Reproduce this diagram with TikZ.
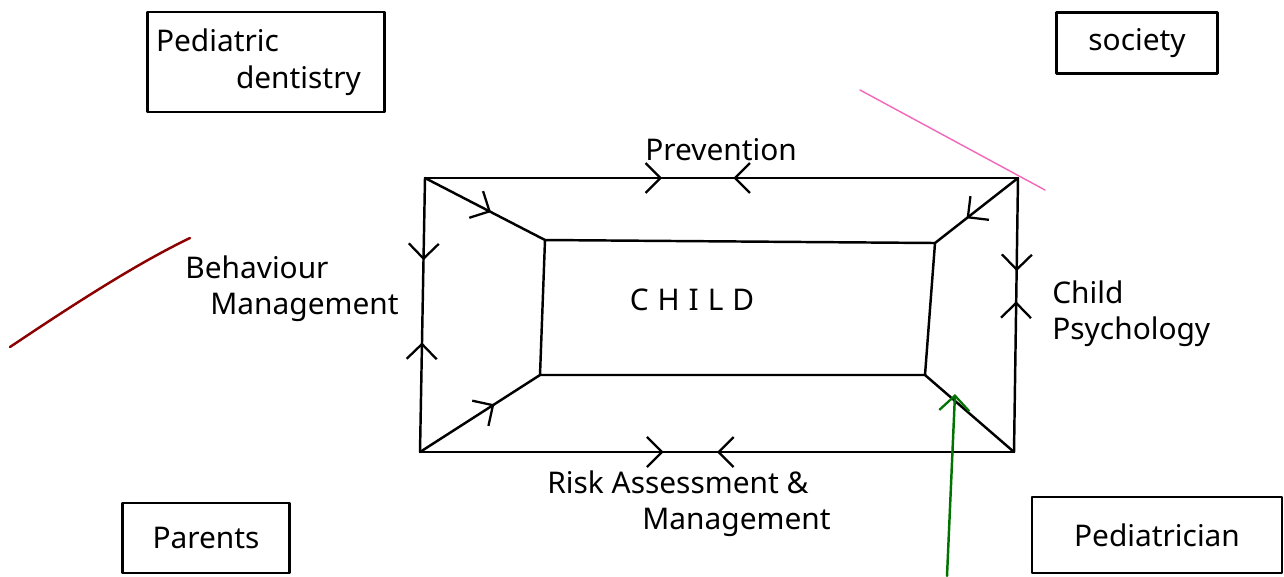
\documentclass[tikz,border=0pt]{standalone}
\usepackage{fontspec}
\setmainfont{Noto Sans}
\usetikzlibrary{arrows.meta,decorations.markings}
\tikzset{
  barb/.tip={Straight Barb[length=3mm,width=6mm,line width=1.3pt]},
  pen/.style={line width=1.4pt,line cap=round,line join=round},
  txt/.style={font=\fontsize{17}{21}\selectfont,inner sep=0pt},
  box/.style={pen,draw,txt,rectangle},
  meet/.style 2 args={postaction={decorate},decoration={markings,
    mark=at position #1 with {\arrow{barb}},
    mark=at position #2 with {\arrowreversed{barb}}}},
  mid/.style={postaction={decorate},decoration={markings,
    mark=at position #1 with {\arrow{barb}}}}
}
\begin{document}
\begin{tikzpicture}[x=0.02cm,y=-0.02cm]
  \useasboundingbox (0,0) rectangle (1284,576);
  \coordinate (o1) at (425,178);
  \coordinate (o2) at (1018,178);
  \coordinate (o3) at (1014,452);
  \coordinate (o4) at (420,452);
  \coordinate (i1) at (545,240);
  \coordinate (i2) at (935,243);
  \coordinate (i3) at (925,375);
  \coordinate (i4) at (540,375);
  \draw[pen,meet={0.40}{0.52}] (o1) -- (o2);
  \draw[pen,meet={0.41}{0.50}] (o4) -- (o3);
  \draw[pen,meet={0.30}{0.60}] (o1) -- (o4);
  \draw[pen,meet={0.34}{0.45}] (o2) -- (o3);
  \draw[pen,mid={0.55}] (o1) -- (i1);
  \draw[pen,mid={0.62}] (o2) -- (i2);
  \draw[pen,mid={0.62}] (o4) -- (i4);
  \draw[pen] (o3) -- (i3);
  \draw[pen] (i1) -- (i2) -- (i3) -- (i4) -- cycle;
  \node[txt] (child) at (692,300) {\addfontfeature{LetterSpace=30}CHILD};
  \node[txt,anchor=base west] (prev) at (645,160) {Prevention};
  \node[txt,anchor=north west,align=left] (behav) at (185,255)
    {Behaviour\\\hspace*{0.5cm}Management};
  \node[txt,anchor=north west,align=left] (psych) at (1052,280)
    {Child\\Psychology};
  \node[txt,anchor=north west,align=left] (risk) at (547,470)
    {Risk Assessment \&\\\hspace*{1.9cm}Management};
  \node[box,minimum width=4.74cm,minimum height=2cm,text width=4.4cm,align=left]
    (dent) at (266,62) {Pediatric\\\hspace*{1.6cm}dentistry};
  \node[box,minimum width=3.22cm,minimum height=1.22cm] (soc) at (1137,43) {society};
  \node[box,minimum width=3.34cm,minimum height=1.4cm] (par) at (206,538) {Parents};
  \node[box,minimum width=5cm,minimum height=1.52cm] (ped) at (1157,535) {Pediatrician};
  \coordinate (gs) at (947,576);
  \coordinate (ge) at (955,394);
  \draw[pen,green!45!black,-barb] (gs) -- (ge);
  \draw[pen,red!55!black] (10,347) .. controls (80,300) and (140,262) .. (190,238);
  \draw[pen,magenta!60,line width=0.8pt] (860,90) -- (1045,190);
\end{tikzpicture}
\end{document}
